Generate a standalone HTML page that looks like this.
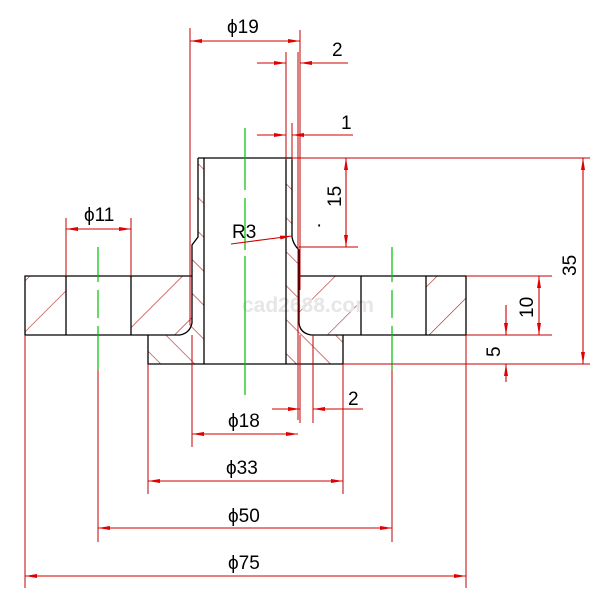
<!DOCTYPE html>
<html><head><meta charset="utf-8"><style>
html,body{margin:0;padding:0;background:#fff;width:610px;height:610px;overflow:hidden}
text{font-family:"Liberation Sans",sans-serif;font-size:19px;fill:#000}
</style></head><body>
<svg width="610" height="610" viewBox="0 0 610 610" xmlns="http://www.w3.org/2000/svg">
<defs>
<marker id="a" viewBox="0 0 12 6" refX="12" refY="3" markerWidth="12" markerHeight="6" markerUnits="userSpaceOnUse" orient="auto-start-reverse">
<path d="M0,1 L12,3 L0,5 Z" fill="#e00000"/></marker>
<pattern id="hf" width="36" height="36" patternUnits="userSpaceOnUse" patternTransform="rotate(45)">
<line x1="0" y1="0" x2="0" y2="36" stroke="#b02020" stroke-width="1.2"/></pattern>
<pattern id="hb" width="24" height="24" patternUnits="userSpaceOnUse" patternTransform="rotate(-45)">
<line x1="0" y1="0" x2="0" y2="24" stroke="#b02020" stroke-width="1.2"/></pattern>
</defs>
<!-- hatching -->
<rect x="25" y="276" width="41" height="59" fill="url(#hf)"/>
<rect x="131" y="276" width="61" height="59" fill="url(#hf)"/>
<rect x="299" y="276" width="62" height="59" fill="url(#hf)"/>
<rect x="426" y="276" width="40" height="59" fill="url(#hf)"/>
<polygon points="192,245 198,237 198,158 204,158 204,364 148,364 148,335 180,335 192,323" fill="url(#hb)"/>
<polygon points="286,158 292,158 292,237 299,248 299,323 311,335 343,335 343,364 286,364" fill="url(#hb)"/>
<!-- watermark -->
<text x="242" y="312" style="font-size:21px;font-weight:bold;fill:#e6e6e6">cad2688.com</text>
<!-- outline -->
<g stroke="#000" stroke-width="1.3" fill="none">
<line x1="198" y1="158" x2="292" y2="158"/>
<polyline points="198,158 198,237 192,245 192,323"/>
<line x1="204" y1="158" x2="204" y2="364"/>
<line x1="286" y1="158" x2="286" y2="364"/>
<path d="M292,158 L292,237 Q293,244 299,250 L299,323"/>
<path d="M192,323 Q190,333 180,335"/>
<path d="M299,323 Q300,333 311,335"/>
<polyline points="192,276 25,276 25,335 148,335"/>
<line x1="148" y1="335" x2="180" y2="335"/>
<polyline points="299,276 466,276 466,335 311,335"/>
<polyline points="148,335 148,364 343,364 343,335"/>
<line x1="66" y1="276" x2="66" y2="335"/>
<line x1="131" y1="276" x2="131" y2="335"/>
<line x1="361" y1="276" x2="361" y2="335"/>
<line x1="426" y1="276" x2="426" y2="335"/>
</g>
<!-- centerlines -->
<g stroke="#00c000" stroke-width="1.2">
<line x1="245" y1="128" x2="245" y2="190"/><line x1="245" y1="198" x2="245" y2="250"/><line x1="245" y1="256" x2="245" y2="395"/>
<line x1="98" y1="247" x2="98" y2="282"/><line x1="98" y1="290" x2="98" y2="318"/><line x1="98" y1="326" x2="98" y2="370"/>
<line x1="392" y1="247" x2="392" y2="282"/><line x1="392" y1="290" x2="392" y2="318"/><line x1="392" y1="326" x2="392" y2="370"/>
</g>
<!-- extension lines -->
<g stroke="#c00000" stroke-width="1">
<line x1="190" y1="28" x2="190" y2="325"/>
<line x1="300" y1="30" x2="300" y2="290"/>
<line x1="286" y1="52" x2="286" y2="160"/>
<line x1="298" y1="52" x2="298" y2="420"/>
<line x1="292" y1="123" x2="292" y2="160"/>
<line x1="292" y1="158" x2="590" y2="158"/>
<line x1="299" y1="247" x2="358" y2="247"/>
<line x1="466" y1="276" x2="552" y2="276"/>
<line x1="466" y1="335" x2="552" y2="335"/>
<line x1="343" y1="364" x2="590" y2="364"/>
<line x1="66" y1="218" x2="66" y2="276"/>
<line x1="131" y1="218" x2="131" y2="276"/>
<line x1="192" y1="335" x2="192" y2="447"/>
<line x1="300" y1="335" x2="300" y2="423"/>
<line x1="313" y1="335" x2="313" y2="423"/>
<line x1="148" y1="364" x2="148" y2="494"/>
<line x1="343" y1="364" x2="343" y2="494"/>
<line x1="98" y1="370" x2="98" y2="542"/>
<line x1="392" y1="370" x2="392" y2="542"/>
<line x1="25" y1="335" x2="25" y2="588"/>
<line x1="466" y1="335" x2="466" y2="588"/>
</g>
<!-- dimension lines -->
<g stroke="#d00000" stroke-width="1.1" fill="none">
<line x1="190" y1="41" x2="300" y2="41" marker-start="url(#a)" marker-end="url(#a)"/>
<line x1="257" y1="63" x2="286" y2="63" marker-end="url(#a)"/>
<line x1="348" y1="63" x2="300" y2="63" marker-end="url(#a)"/>
<line x1="257" y1="135" x2="286" y2="135" marker-end="url(#a)"/>
<line x1="353" y1="135" x2="292" y2="135" marker-end="url(#a)"/>
<line x1="66" y1="229" x2="131" y2="229" marker-start="url(#a)" marker-end="url(#a)"/>
<line x1="231" y1="244" x2="292" y2="236" marker-end="url(#a)"/>
<line x1="346" y1="158" x2="346" y2="247" marker-start="url(#a)" marker-end="url(#a)"/>
<line x1="583" y1="158" x2="583" y2="364" marker-start="url(#a)" marker-end="url(#a)"/>
<line x1="539" y1="276" x2="539" y2="335" marker-start="url(#a)" marker-end="url(#a)"/>
<line x1="506" y1="305" x2="506" y2="335" marker-end="url(#a)"/>
<line x1="506" y1="382" x2="506" y2="364" marker-end="url(#a)"/>
<line x1="192" y1="434" x2="298" y2="434" marker-start="url(#a)" marker-end="url(#a)"/>
<line x1="272" y1="409" x2="300" y2="409" marker-end="url(#a)"/>
<line x1="363" y1="409" x2="313" y2="409" marker-end="url(#a)"/>
<line x1="148" y1="481" x2="343" y2="481" marker-start="url(#a)" marker-end="url(#a)"/>
<line x1="98" y1="528" x2="392" y2="528" marker-start="url(#a)" marker-end="url(#a)"/>
<line x1="25" y1="576" x2="466" y2="576" marker-start="url(#a)" marker-end="url(#a)"/>
</g>
<!-- labels -->
<text x="227" y="33">ϕ19</text>
<text x="332" y="56">2</text>
<text x="341" y="129">1</text>
<text x="84" y="221">ϕ11</text>
<text x="232" y="238">R3</text>
<text x="316" y="231">·</text>
<text transform="translate(341,207) rotate(-90)">15</text>
<text transform="translate(576,276) rotate(-90)">35</text>
<text transform="translate(533,318) rotate(-90)">10</text>
<text transform="translate(500,357) rotate(-90)">5</text>
<text x="228" y="427">ϕ18</text>
<text x="348" y="405">2</text>
<text x="226" y="474">ϕ33</text>
<text x="228" y="522">ϕ50</text>
<text x="228" y="569">ϕ75</text>
</svg>
</body></html>
